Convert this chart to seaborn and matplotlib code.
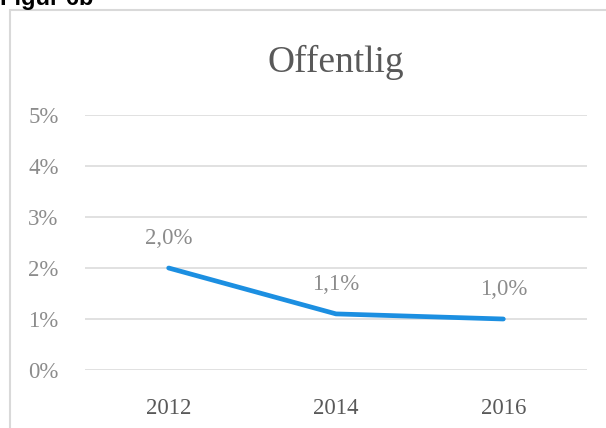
import matplotlib
matplotlib.use("Agg")
import matplotlib.pyplot as plt
import matplotlib.patches as patches
import seaborn as sns
import pandas as pd

# Data
years = ["2012", "2014", "2016"]
values = [2.0, 1.1, 1.0]
value_labels = ["2,0%", "1,1%", "1,0%"]
y_ticks = [0, 1, 2, 3, 4, 5]
y_tick_labels = ["0%", "1%", "2%", "3%", "4%", "5%"]

df = pd.DataFrame({"year": years, "value": values})

sns.set_style("white")
plt.rcParams["font.family"] = ["Liberation Serif", "DejaVu Serif"]

W, H = 606, 428
fig = plt.figure(figsize=(W / 100, H / 100), dpi=100)

# outer chart frame
frame = patches.Rectangle((10 / W, -0.1), 1.2, (H - 10) / H + 0.1,
                          transform=fig.transFigure, fill=False,
                          edgecolor="#d9d9d9", linewidth=1.5, clip_on=False)
fig.patches.append(frame)

fig.text(0.0, (H - 5) / H, "Figur 6b", family="Liberation Sans",
         fontweight="bold", fontsize=17, color="black", va="baseline", ha="left")

ax = fig.add_axes([85 / W, (H - 370) / H, (587 - 85) / W, (370 - 115) / H])
sns.lineplot(data=df, x="year", y="value", ax=ax, color="#1c8fe1",
             linewidth=3.4, solid_capstyle="round", sort=False)

ax.set_xlim(-0.5, 2.5)
ax.set_ylim(0, 5)
ax.set_yticks(y_ticks)
ax.set_yticklabels(y_tick_labels)
ax.yaxis.grid(True, color="#d9d9d9", linewidth=1.1)
ax.set_axisbelow(True)
for s in ax.spines.values():
    s.set_visible(False)
ax.tick_params(axis="y", length=0, pad=19, labelsize=16.5, labelcolor="#8c8c8c")
ax.tick_params(axis="x", length=0, pad=20, labelsize=16.5, labelcolor="#595959")
ax.set_xlabel("")
ax.set_ylabel("")

for i, (v, lab) in enumerate(zip(values, value_labels)):
    ax.annotate(lab, (i, v), xytext=(0, 21), textcoords="offset points",
                ha="center", va="center", fontsize=16.5, color="#8c8c8c")

fig.text(336 / W, (H - 62) / H, "Offentlig", ha="center", va="center",
         fontsize=27, color="#595959")

fig.savefig("out.png", dpi=100)
